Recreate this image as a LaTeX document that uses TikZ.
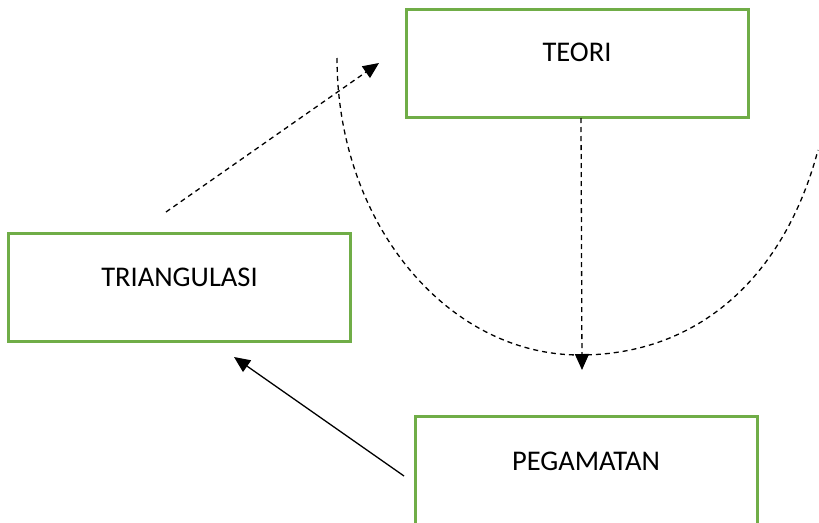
\documentclass[tikz,border=0pt]{standalone}
\usepackage{fontspec}
\setmainfont{Carlito}
\usetikzlibrary{arrows.meta}

\definecolor{boxgreen}{HTML}{70AD47}

\tikzset{
  stagebox/.style={draw=boxgreen, line width=3pt, rectangle, inner sep=0pt,
    minimum width=342pt, font=\fontsize{28.5}{31}\selectfont, text height=18.5pt},
  flowdash/.style={line width=1.3pt, dash pattern=on 5pt off 4pt},
  flowtip/.style={-{Triangle[length=16pt,width=14pt]}},
}

\begin{document}
\begin{tikzpicture}[x=1pt, y=-1pt]
  \clip (0,0) rectangle (819,522);
  \fill[white] (0,0) rectangle (819,522);

  % the three stages
  \node[stagebox, minimum height=108pt, text depth=22.5pt] (teori) at (577,63) {TEORI};
  \node[stagebox, minimum height=108pt, text depth=20.5pt] (tri) at (179.5,287) {TRIANGULASI};
  \node[stagebox, minimum height=116pt, text depth=26.5pt] (peg) at (586,474) {PEGAMATAN};

  % loose ends of the connectors
  \coordinate (triout) at (166,212);
  \coordinate (teoritip) at (379,63);
  \coordinate (teoriout) at (581,118);
  \coordinate (pegtip) at (582,370);
  \coordinate (pegout) at (404,476);
  \coordinate (tritip) at (234,357);

  % dashed bowl under the theory box
  \draw[flowdash] (337,58) .. controls (337,222) and (446,355) .. (580,355)
                          .. controls (700,355) and (785,275) .. (818,150);

  % connectors
  \draw[flowdash, flowtip] (triout) -- (teoritip);
  \draw[flowdash, flowtip] (teoriout) -- (pegtip);
  \draw[line width=1.3pt, flowtip] (pegout) -- (tritip);
\end{tikzpicture}
\end{document}
